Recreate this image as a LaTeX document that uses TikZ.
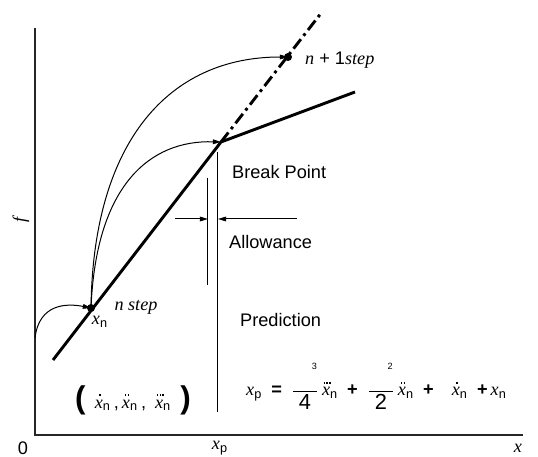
\documentclass[tikz,border=0pt]{standalone}
\usepackage{fontspec}
\usepackage{amsmath}
\setmainfont{Liberation Sans}
\newfontfamily\tms{Liberation Serif}
\usetikzlibrary{arrows.meta}
\newcommand{\vx}{\text{\tms\itshape x}}
\newcommand{\vit}[1]{{\tms\itshape #1}}
% x with dots on top (1, 2 or 3)
\newcommand{\dt}{\rule{0.85pt}{0.85pt}}
\newcommand{\ax}[1]{\mathord{\hbox{\ooalign{\tms\itshape x\cr
    \hidewidth\kern0.12em\raisebox{1.3ex}{#1}\hidewidth\cr}}}}
\newcommand{\dx}{\ax{\dt}}
\newcommand{\ddx}{\ax{\dt\kern0.9pt\dt}}
\newcommand{\dddx}{\ax{\dt\kern0.6pt\dt\kern0.6pt\dt}}
\newcommand{\frc}[2]{\dfrac{\makebox[13pt][r]{\raisebox{1.5ex}{\tiny #1}}}{\text{\large #2}}}

\begin{document}
\begin{tikzpicture}[
        x=0.55pt, y=-0.55pt,
        every node/.style={inner sep=1pt},
        thin line/.style={line width=0.55pt},
        main line/.style={line width=1.6pt},
        arr/.style={thin line, -{Triangle[length=4.5pt,width=2.6pt]}},
        dashdot/.style={main line, dash pattern=on 6.6pt off 2.4pt on 1.6pt off 2.4pt}
    ]
        \useasboundingbox (0,0) rectangle (538,457);

        % Axes
        \coordinate (O) at (35,435);
        \coordinate (yEnd) at (35,28);
        \coordinate (xEnd) at (523,435);
        \draw[line width=0.75pt, black!85] (yEnd) -- (O) -- (xEnd);
        \node (zero) at (23,448) {0};
        \node (xlab) at (518,448) {\vit{x}};
        \node[rotate=90] (flab) at (21,220) {\vit{f}};

        % Characteristic
        \coordinate (lineS) at (53,360);
        \coordinate (pn) at (91,308);
        \coordinate (bp) at (221,142);
        \coordinate (pn1) at (288,57);
        \coordinate (dashE) at (322,12);
        \coordinate (segE) at (355,92);
        \draw[main line] (lineS) -- (bp) -- (segE);
        \draw[dashdot] (bp) -- (dashE);

        % Steps
        \coordinate (yA) at (35,338);
        \draw[arr] (yA) .. controls (39,304) and (66,303) .. (pn);
        \draw[arr] (pn) .. controls (93,140) and (170,57) .. (pn1);
        \draw[arr] (pn) .. controls (96,185) and (150,140) .. (bp);
        \fill[black] (pn) circle (2.2pt);
        \fill[black] (pn1) circle (2.2pt);
        \node (xn) at (100,322) {$\vx_{\text{n}}$};
        \node (nstep) at (136,307) {\vit{n step}};
        \node[anchor=west] (n1step) at (303,60) {\vit{n} + 1\vit{step}};

        % Prediction line and allowance
        \coordinate (xpTop) at (218,152);
        \coordinate (xpBot) at (218,412);
        \coordinate (alTop) at (208,178);
        \coordinate (alBot) at (208,285);
        \draw[thin line] (xpTop) -- (xpBot);
        \draw[thin line] (alTop) -- (alBot);
        \coordinate (aL) at (175,219);
        \coordinate (aLe) at (208,219);
        \coordinate (aR) at (297,219);
        \coordinate (aRe) at (218,219);
        \draw[arr] (aL) -- (aLe);
        \draw[arr] (aR) -- (aRe);
        \node (xplab) at (220,448) {$\vx_{\text{p}}$};

        % Texts
        \node[anchor=west] (bptxt) at (230,172) {Break Point};
        \node[anchor=west] (altxt) at (227,242) {Allowance};
        \node[anchor=west] (prtxt) at (238,320) {Prediction};
        \node (state) at (133,400) {{\bfseries\LARGE(}\enspace$\dx_{\text{n}}$\,,\,$\ddx_{\text{n}}$\,,\enspace$\dddx_{\text{n}}$\enspace{\bfseries\LARGE)}};
        \node[anchor=base west] (formula) at (244,396) {$\vx_{\text{p}}\enspace\text{\bfseries =}\enspace
            \frc{3}{4}\,\dddx_{\text{n}}
            \enspace\text{\bfseries +}\enspace
            \frc{2}{2}\,\ddx_{\text{n}}
            \enspace\text{\bfseries +}\quad
            \dx_{\text{n}}\enspace\text{\bfseries +}\,\vx_{\text{n}}$};

\end{tikzpicture}
\end{document}
